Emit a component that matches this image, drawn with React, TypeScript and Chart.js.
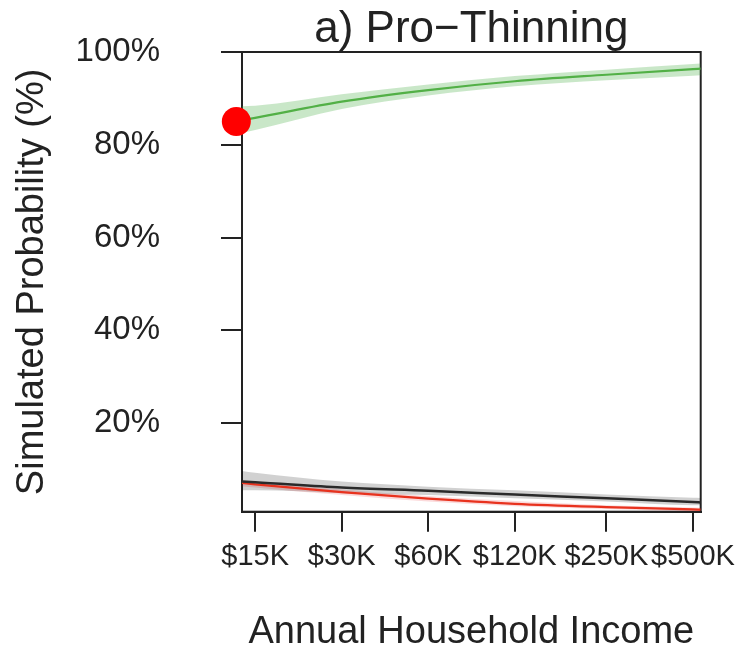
import React, { useEffect, useRef } from "react";
import { Chart, registerables } from "chart.js";

Chart.register(...registerables);

// Income in thousands of dollars (log scale)
const incomes = [13.5, 15, 30, 60, 120, 250, 500, 532];

const greenMid = [85.3, 85.8, 89.3, 91.8, 93.7, 95.1, 96.3, 96.4];
const greenHi = [88.3, 88.4, 90.9, 93.0, 94.8, 96.2, 97.4, 97.5];
const greenLo = [82.6, 83.2, 87.7, 90.6, 92.6, 93.9, 94.9, 95.0];

const blackMid = [7.4, 7.25, 6.1, 5.4, 4.6, 3.8, 3.0, 2.9];
const blackHi = [9.7, 9.3, 7.4, 6.3, 5.5, 4.6, 3.9, 3.85];
const blackLo = [5.5, 5.5, 4.9, 4.5, 3.8, 3.1, 2.3, 2.3];

const redMid = [7.1, 6.8, 5.1, 3.7, 2.6, 1.9, 1.4, 1.33];
const redHi = [7.7, 7.4, 5.7, 4.3, 3.2, 2.3, 1.8, 1.75];
const redLo = [6.4, 6.1, 4.5, 3.1, 2.1, 1.5, 1.0, 0.95];

const markerIncome = [12.9];
const markerValue = [85.0];

const xTickValues = [15, 30, 60, 120, 250, 500];
const xTickLabels = ["$15K", "$30K", "$60K", "$120K", "$250K", "$500K"];
const yTickValues = [20, 40, 60, 80, 100];
const yTickLabels = ["20%", "40%", "60%", "80%", "100%"];

const FONT = "'Liberation Sans', Arial, Helvetica, sans-serif";
const INK = "#222222";

const pts = (xs: number[], ys: number[]) => xs.map((x, i) => ({ x, y: ys[i] }));

const boxPlugin = {
  id: "plotBox",
  beforeDatasetsDraw(chart: any) {
    const { ctx, chartArea: a } = chart;
    ctx.save();
    ctx.strokeStyle = INK;
    ctx.lineWidth = 2;
    ctx.strokeRect(a.left, a.top, a.right - a.left, a.bottom - a.top);
    ctx.restore();
  },
};

export default function App() {
  const ref = useRef<HTMLCanvasElement | null>(null);

  useEffect(() => {
    if (!ref.current) return;
    const band = (hi: number[], lo: number[], color: string) => [
      {
        data: pts(incomes, hi),
        borderWidth: 0,
        pointRadius: 0,
        backgroundColor: color,
        fill: "+1",
        order: 3,
        cubicInterpolationMode: "monotone",
      },
      {
        data: pts(incomes, lo),
        borderWidth: 0,
        pointRadius: 0,
        fill: false,
        order: 3,
        cubicInterpolationMode: "monotone",
      },
    ];
    const line = (mid: number[], color: string, w: number) => ({
      data: pts(incomes, mid),
      borderColor: color,
      borderWidth: w,
      pointRadius: 0,
      fill: false,
      order: 2,
      cubicInterpolationMode: "monotone",
    });

    const chart = new Chart(ref.current, {
      type: "line",
      data: {
        datasets: [
          ...band(greenHi, greenLo, "rgba(77,175,74,0.3)"),
          ...band(blackHi, blackLo, "rgba(0,0,0,0.18)"),
          ...band(redHi, redLo, "rgba(228,26,28,0.16)"),
          line(greenMid, "#52B046", 2.2),
          line(blackMid, "#2a2a2a", 2.5),
          line(redMid, "#E8321E", 2.2),
          {
            data: pts(markerIncome, markerValue),
            showLine: false,
            pointRadius: 14.5,
            pointBackgroundColor: "#ff0000",
            pointBorderWidth: 0,
            borderWidth: 0,
            clip: false,
            order: 0,
          },
        ] as any,
      },
      options: {
        responsive: false,
        animation: false,
        devicePixelRatio: 1,
        events: [],
        layout: { padding: { left: 0, right: 35.3, top: 0, bottom: 0 } },
        plugins: {
          legend: { display: false },
          tooltip: { enabled: false },
          title: {
            display: true,
            text: "a) Pro\u2212Thinning",
            fullSize: false,
            color: INK,
            font: { family: FONT, size: 44, weight: "normal", lineHeight: 1 },
            padding: { top: 8, bottom: 0 },
          },
        },
        scales: {
          x: {
            type: "logarithmic",
            position: "bottom",
            min: 13.5,
            max: 532,
            afterBuildTicks: (scale: any) => {
              scale.ticks = xTickValues.map((v) => ({ value: v }));
            },
            afterFit: (scale: any) => {
              scale.height = 134.3;
              scale.paddingLeft = 0;
              scale.paddingRight = 0;
              scale.paddingTop = 0;
              scale.paddingBottom = 0;
            },
            ticks: {
              autoSkip: false,
              maxRotation: 0,
              minRotation: 0,
              padding: 8,
              color: INK,
              font: { family: FONT, size: 29 },
              callback: (_v: any, i: number) => xTickLabels[i],
            },
            grid: {
              drawOnChartArea: false,
              drawTicks: true,
              tickLength: 20,
              color: INK,
              lineWidth: 2,
            },
            border: { display: true, color: INK, width: 2 },
            title: {
              display: true,
              text: "Annual Household Income",
              color: INK,
              font: { family: FONT, size: 38, lineHeight: 0.7 },
              padding: { top: 0, bottom: 0 },
            },
          },
          y: {
            type: "linear",
            position: "left",
            min: 0.9,
            max: 100,
            afterBuildTicks: (scale: any) => {
              scale.ticks = yTickValues.map((v) => ({ value: v }));
            },
            afterFit: (scale: any) => {
              scale.width = 242;
              scale.paddingLeft = 0;
              scale.paddingRight = 0;
              scale.paddingTop = 0;
              scale.paddingBottom = 0;
            },
            ticks: {
              padding: 61,
              color: INK,
              font: { family: FONT, size: 33 },
              callback: (_v: any, i: number) => yTickLabels[i],
            },
            grid: {
              drawOnChartArea: false,
              drawTicks: true,
              tickLength: 21,
              color: INK,
              lineWidth: 2,
            },
            border: { display: true, color: INK, width: 2 },
            title: {
              display: true,
              text: "Simulated Probability (%)",
              color: INK,
              font: { family: FONT, size: 38 },
              padding: { top: 9.4, bottom: 0 },
            },
          },
        },
      } as any,
      plugins: [boxPlugin],
    });
    return () => chart.destroy();
  }, []);

  return (
    <div style={{ position: "fixed", left: 0, top: 0, width: 736, height: 646, background: "#fff" }}>
      <canvas ref={ref} width={736} height={646} style={{ display: "block" }} />
    </div>
  );
}
